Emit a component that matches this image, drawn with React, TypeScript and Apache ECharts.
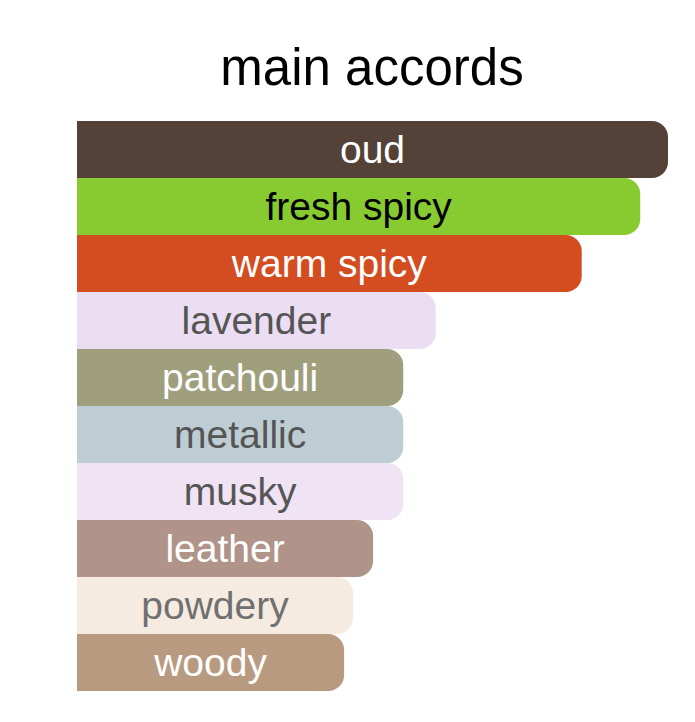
import { useEffect, useRef } from 'react'
import * as echarts from 'echarts'

// accord strengths (oud = 100)
const accords = ['oud', 'fresh spicy', 'warm spicy', 'lavender', 'patchouli', 'metallic', 'musky', 'leather', 'powdery', 'woody']
const strengths = [100, 95.3, 85.4, 60.7, 55.2, 55.2, 55.2, 50.1, 46.7, 45.2]

const BAR_COLORS = ['#544137', '#88cb31', '#d44d20', '#ecdef2', '#9f9f7e', '#bdcdd3', '#f0e3f3', '#b09489', '#f5ebe1', '#b89a81']
const LABEL_COLORS = ['#ffffff', '#000000', '#ffffff', '#555555', '#ffffff', '#555555', '#555555', '#ffffff', '#707070', '#ffffff']

const FONT = '"Liberation Sans", Arial, sans-serif'

export default function App() {
  const ref = useRef<HTMLDivElement | null>(null)

  useEffect(() => {
    if (!ref.current) return
    const chart = echarts.init(ref.current, undefined, { renderer: 'svg' })
    chart.setOption({
      animation: false,
      backgroundColor: '#ffffff',
      title: {
        text: 'main accords',
        left: 367,
        top: 37,
        textAlign: 'center',
        textStyle: { fontFamily: FONT, fontSize: 51, fontWeight: 'normal', color: '#000' },
      },
      grid: { left: 77, top: 121, width: 591, height: 570, containLabel: false },
      xAxis: { type: 'value', min: 0, max: 100, show: false },
      yAxis: {
        type: 'category',
        data: accords,
        inverse: true,
        show: false,
      },
      series: [{
        type: 'bar',
        barCategoryGap: 0,
        data: strengths.map((v, i) => ({
          value: v,
          itemStyle: { color: BAR_COLORS[i], borderRadius: [0, 16, 16, 0] },
          label: { color: LABEL_COLORS[i] },
        })),
        label: {
          show: true,
          position: 'inside',
          formatter: (p: { name: string }) => p.name,
          fontFamily: FONT,
          fontSize: 39,
        },
      }],
    })
    return () => chart.dispose()
  }, [])

  return <div ref={ref} style={{ position: 'fixed', left: 0, top: 0, width: 695, height: 722 }} />
}
